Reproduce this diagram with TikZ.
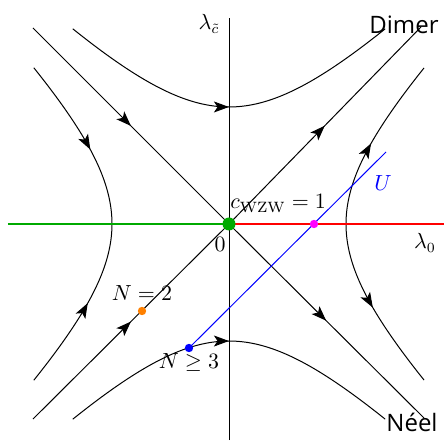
\documentclass[tikz,border=0pt]{standalone}
\usepackage{fontspec}
\newfontfamily\labelfont{Open Sans}
\usetikzlibrary{arrows.meta,decorations.markings}
\definecolor{fpgreen}{RGB}{0,170,0}
\definecolor{fpred}{RGB}{255,0,0}
\definecolor{fpmag}{RGB}{255,0,255}
\definecolor{fporange}{RGB}{255,128,0}
\definecolor{fpblue}{RGB}{0,0,255}
\begin{document}
\begin{tikzpicture}[x=0.5pt,y=0.5pt,
  flow/.style={line width=0.5pt,black},
  arrowat/.style={postaction={decorate},decoration={markings,
     mark=at position #1 with {\arrow{Stealth[length=7.5pt,width=5.5pt,inset=1.8pt]}}}},
  dot/.style={circle,inner sep=0pt,minimum size=#1},
  lab/.style={inner sep=0pt,font=\fontsize{10.7}{13}\selectfont},
  phase/.style={font=\labelfont\fontsize{12}{14}\selectfont,inner sep=0pt}]
\useasboundingbox (-229,-219) rectangle (215,224);
% axes
\coordinate (vtop) at (0,206);
\coordinate (vbot) at (0,-216);
\coordinate (hl) at (-221,0);
\coordinate (hr) at (215,0);
\coordinate (O) at (0,0);
\draw[line width=0.5pt] (vbot) -- (vtop);
% diagonals
\coordinate (nw) at (-196,196);
\coordinate (se) at (195,-194);
\coordinate (sw) at (-196,-195);
\coordinate (ne) at (192,197);
\draw[flow,arrowat=0.5] (nw) -- (O);
\draw[flow,arrowat=0.5] (O) -- (se);
\draw[flow,arrowat=0.5] (sw) -- (O);
\draw[flow,arrowat=0.5] (O) -- (ne);
% hyperbolas
\def\a{117}
% right: arrows away from apex
\draw[flow,arrowat=0.48] plot[domain=0:1.1,samples=60,variable=\t] ({\a*cosh(\t)},{\a*sinh(\t)});
\draw[flow,arrowat=0.5] plot[domain=0:-1.1,samples=60,variable=\t] ({\a*cosh(\t)},{\a*sinh(\t)});
% left: arrows toward apex
\draw[flow,arrowat=0.56] plot[domain=1.1:0,samples=60,variable=\t] ({-\a*cosh(\t)},{\a*sinh(\t)});
\draw[flow,arrowat=0.53] plot[domain=-1.1:0,samples=60,variable=\t] ({-\a*cosh(\t)},{\a*sinh(\t)});
% top and bottom: arrow at apex pointing right
\draw[flow,arrowat=0.5] plot[domain=-1.1:1.1,samples=100,variable=\t] ({\a*sinh(\t)},{\a*cosh(\t)});
\draw[flow,arrowat=0.5] plot[domain=-1.1:1.1,samples=100,variable=\t] ({\a*sinh(\t)},{-\a*cosh(\t)});
% horizontal coloured line
\draw[line width=1.4pt,fpgreen] (hl) -- (O);
\draw[line width=1.4pt,fpred] (O) -- (hr);
% U line
\coordinate (Uend) at (157,72);
\node[dot=4.2pt,fill=fpblue] (n3) at (-40,-124) {};
\draw[fpblue,line width=0.5pt] (n3.center) -- (Uend);
% dots
\node[dot=6.5pt,fill=fpgreen] (o) at (O) {};
\node[dot=4.2pt,fill=fpmag] (m) at (85,0) {};
\node[dot=4.2pt,fill=fporange] (n2) at (-87,-87) {};
% labels
\node[lab] (lc) at (-20,200) {$\lambda_{\tilde c}$};
\node[lab] (l0) at (196,-19) {$\lambda_0$};
\node[lab] (zero) at (-9,-20) {$0$};
\node[lab,anchor=base west] (cw) at (1,15) {$c_{\mathrm{WZW}}=1$};
\node[lab,fpblue] (U) at (154,41) {$U$};
\node[lab] (N2) at (-87,-69) {$N=2$};
\node[lab] (N3) at (-40,-139) {$N\geq 3$};
\node[phase] (dimer) at (175,199) {Dimer};
\node[phase] (neel) at (183,-198) {Néel};
\end{tikzpicture}
\end{document}
